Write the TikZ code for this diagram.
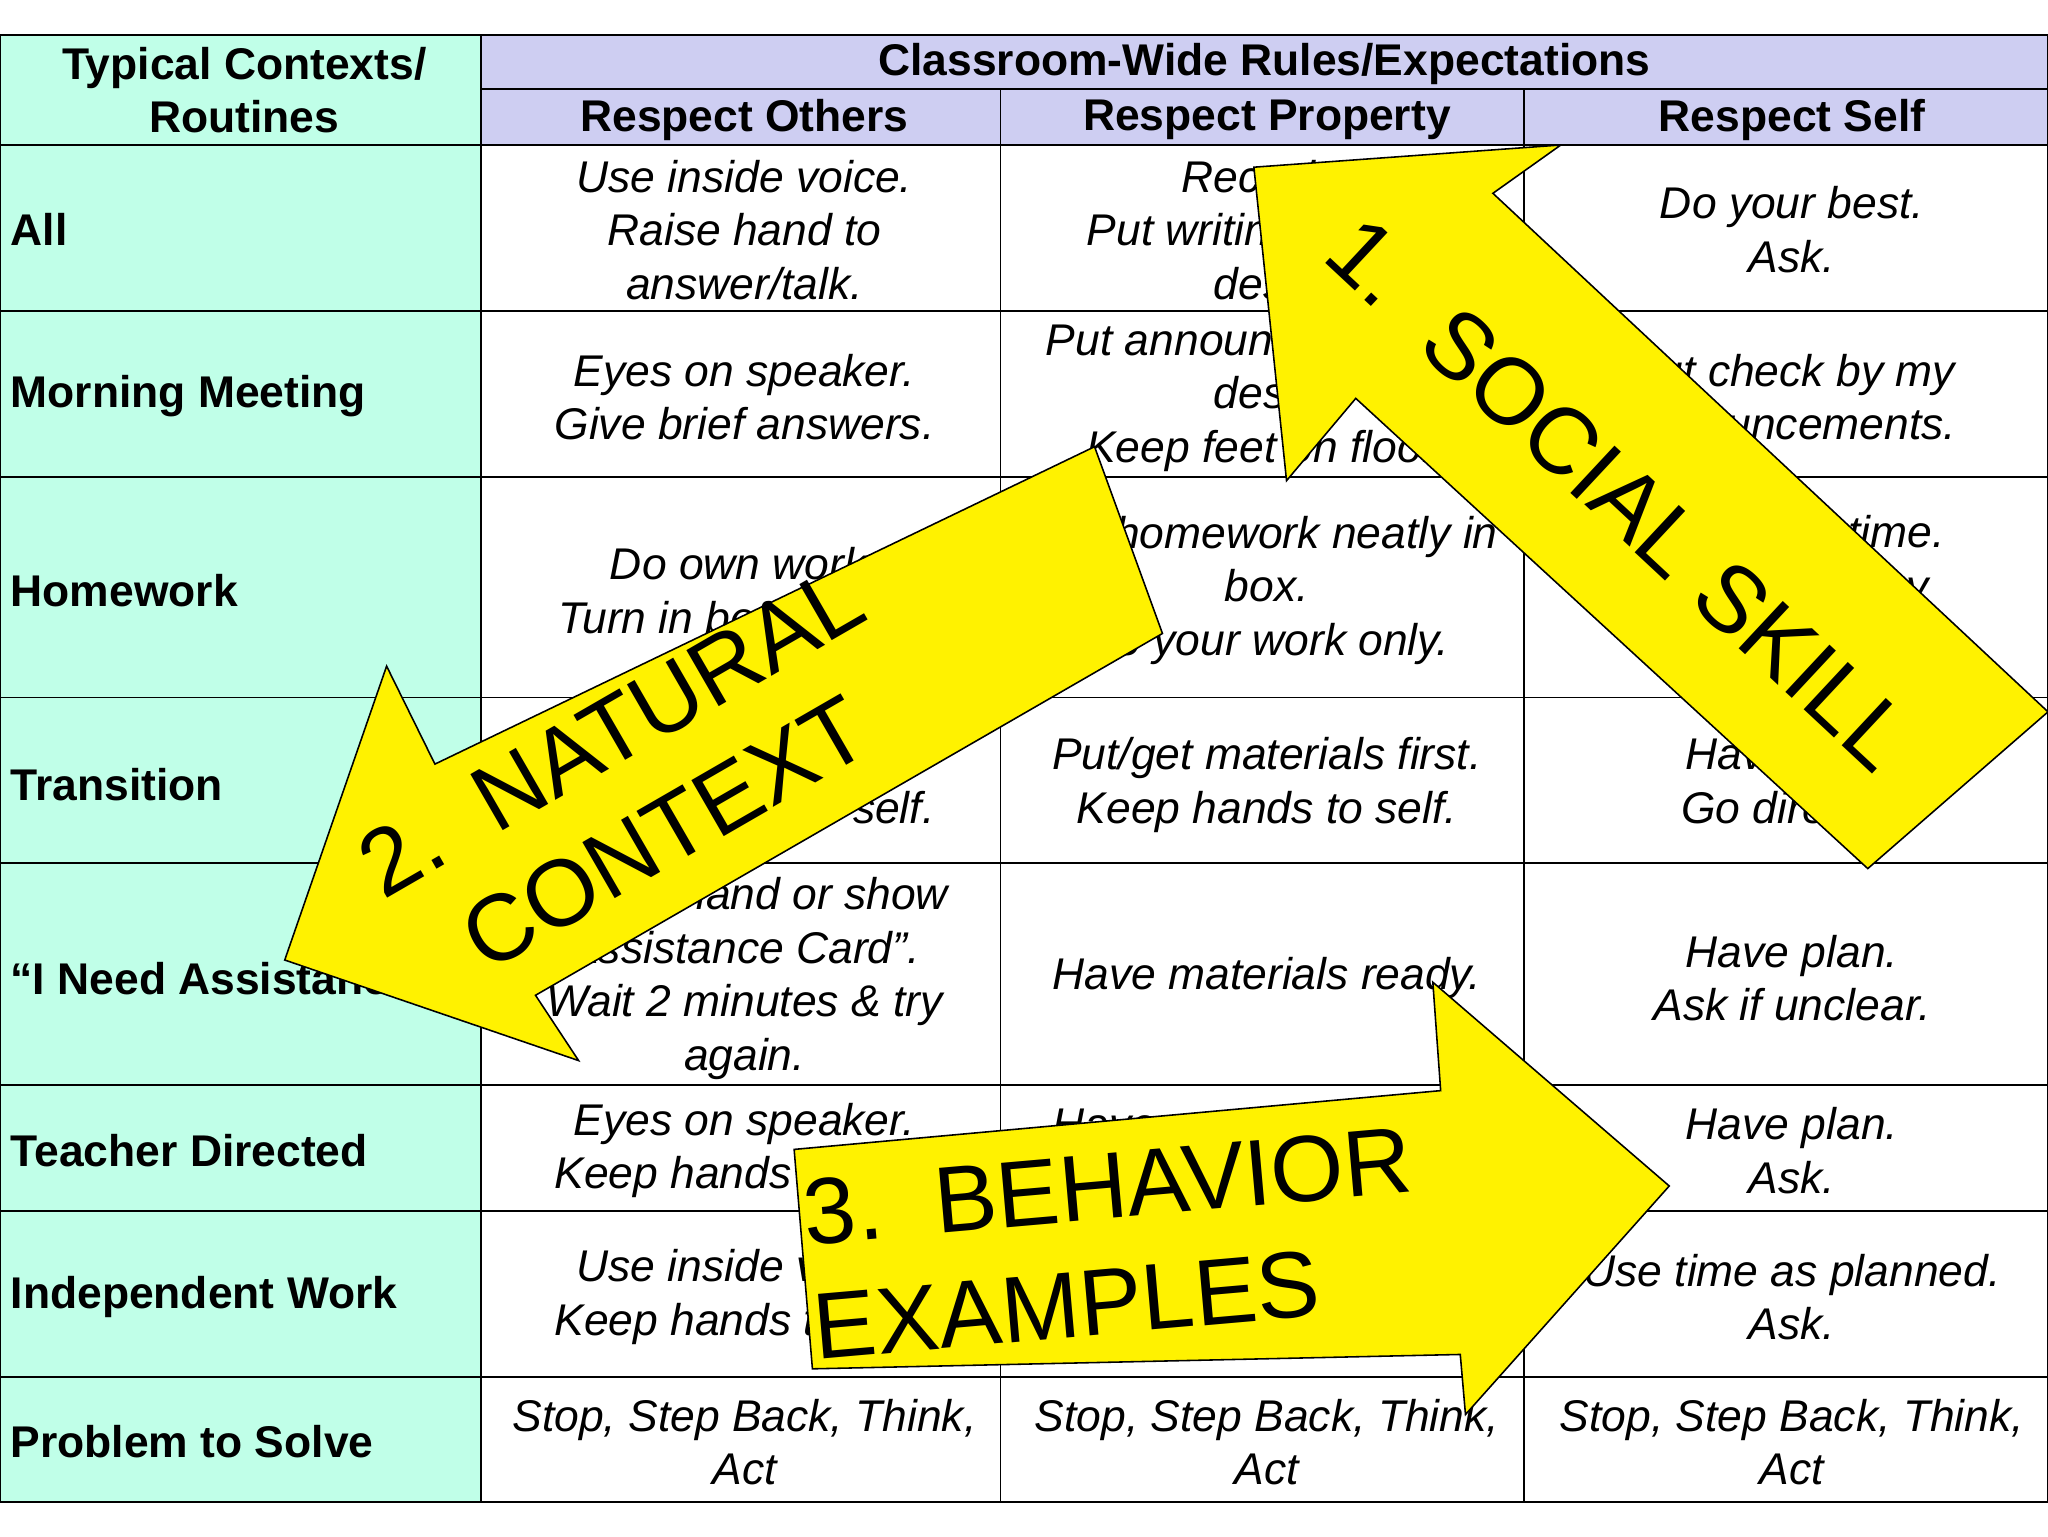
\documentclass[tikz,border=0pt]{standalone}
\usepackage{fontspec}
\setmainfont{Liberation Sans}
\begin{document}
\begin{tikzpicture}[x=1pt,y=-1pt,
  cell/.style={font=\fontsize{34}{41}\selectfont\itshape,align=center,inner sep=0pt},
  lab/.style={font=\fontsize{34}{41}\selectfont\bfseries,align=left,anchor=west,inner sep=0pt},
  hdr/.style={font=\fontsize{34}{41}\selectfont\bfseries,align=center,inner sep=0pt},
  arr/.style={fill=yellow,draw=black,line width=1.2pt,line join=miter},
  atext/.style={font=\fontsize{72}{88}\selectfont,align=left,inner sep=0pt}]
\useasboundingbox (0,0) rectangle (1568,1176);
\fill[white] (0,0) rectangle (1568,1176);
\fill[fill={rgb,255:red,192;green,255;blue,232}] (0,27) rectangle (368,1150);
\fill[fill={rgb,255:red,206;green,206;blue,242}] (368,27) rectangle (1568,111);
\begin{scope}[line width=1.5pt]
\draw (0,27) rectangle (1568,1150);
\draw (368,68) -- (1568,68);
\foreach \y in {111,238,365,534,661,831,927,1054} \draw (0,\y) -- (1568,\y);
\draw (368,27) -- (368,1150);
\draw (766,68) -- (766,1150);
\draw (1167,68) -- (1167,1150);
\end{scope}
% headers
\node[hdr] (h0) at (187,69) {Typical Contexts/\\Routines};
\node[hdr] (h1) at (968,49) {Classroom-Wide Rules/Expectations};
\node[hdr] (h2) at (570,92) {Respect Others};
\node[hdr] (h3) at (970,92) {Respect Property};
\node[hdr] (h4) at (1372,92) {Respect Self};
% row labels
\node[lab] (r1) at (8,176) {All};
\node[lab] (r2) at (8,303) {Morning Meeting};
\node[lab] (r3) at (8,452) {Homework};
\node[lab] (r4) at (8,601) {Transition};
\node[lab] (r5) at (8,749) {“I Need Assistance”};
\node[lab] (r6) at (8,881) {Teacher Directed};
\node[lab] (r7) at (8,993) {Independent Work};
\node[lab] (r8) at (8,1104) {Problem to Solve};
% cells
\node[cell] (c11) at (570,176) {Use inside voice.\\Raise hand to\\answer/talk.};
\node[cell] (c12) at (970,176) {Recycle.\\Put writing tools in\\desk.};
\node[cell] (c13) at (1372,176) {Do your best.\\Ask.};
\node[cell] (c21) at (570,304) {Eyes on speaker.\\Give brief answers.};
\node[cell] (c22) at (970,304) {Put announcements in\\desk.\\Keep feet on floor.};
\node[cell] (c23) at (1372,304) {Put check by my\\announcements.};
\node[cell] (c31) at (570,452) {Do own work.\\Turn in before due.};
\node[cell] (c32) at (970,452) {Put homework neatly in\\box.\\Do your work only.};
\node[cell] (c33) at (1372,431) {Turn in on time.\\Do it right/day};
\node[cell] (c41) at (570,601) {Walk.\\Keep hands to self.};
\node[cell] (c42) at (970,601) {Put/get materials first.\\Keep hands to self.};
\node[cell] (c43) at (1372,601) {Have plan.\\Go directly.};
\node[cell] (c51) at (570,749) {“Raise hand or show\\Assistance Card”.\\Wait 2 minutes \& try\\again.};
\node[cell] (c52) at (970,749) {Have materials ready.};
\node[cell] (c53) at (1372,749) {Have plan.\\Ask if unclear.};
\node[cell] (c61) at (570,881) {Eyes on speaker.\\Keep hands to self.};
\node[cell] (c62) at (970,881) {Have materials ready.\\Use as directed.};
\node[cell] (c63) at (1372,881) {Have plan.\\Ask.};
\node[cell] (c71) at (570,993) {Use inside voice.\\Keep hands to self.};
\node[cell] (c72) at (970,993) {Use materials as planned.\\Return with done.};
\node[cell] (c73) at (1372,993) {Use time as planned.\\Ask.};
\node[cell] (c81) at (570,1104) {Stop, Step Back, Think,\\Act};
\node[cell] (c82) at (970,1104) {Stop, Step Back, Think,\\Act};
\node[cell] (c83) at (1372,1104) {Stop, Step Back, Think,\\Act};
% arrows
\draw[arr] (960,128) -- (1195,111) -- (1143,148) -- (1568,545) -- (1430,665) -- (1038,305) -- (985,368) -- cycle;
\node[atext,rotate=-43] (t1) at (1240,378) {1.\ \ SOCIAL SKILL};
\draw[arr] (218,735) -- (296,510) -- (333,585) -- (838,342) -- (890,485) -- (410,762) -- (443,812) -- cycle;
\node[atext,rotate=30] (t2) at (490,598) {2.\ \ NATURAL\\\ \ CONTEXT};
\draw[arr] (1278,908) -- (1122,1083) -- (1118,1037) -- (622,1048) -- (608,880) -- (1103,835) -- (1097,752) -- cycle;
\node[atext,rotate=5] (t3) at (852,952) {3.\ \ BEHAVIOR\\EXAMPLES};
\end{tikzpicture}
\end{document}
